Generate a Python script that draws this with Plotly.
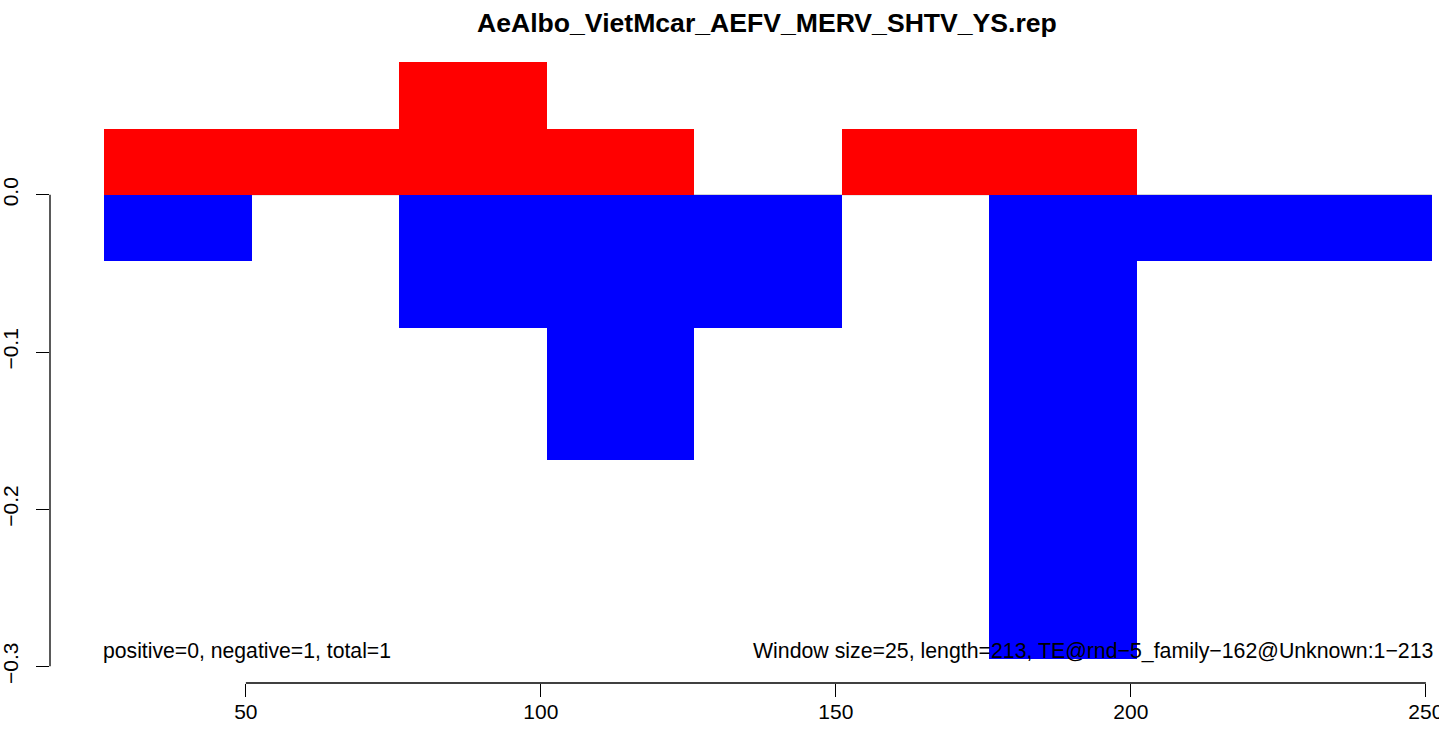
import plotly.graph_objects as go

# ---- data ----
window_starts = [26, 51, 76, 101, 126, 151, 176, 201, 226]
window_size = 25
unit = 0.0422
positive_counts = [1, 1, 2, 1, 0, 1, 1, 0, 0]
negative_counts = [-1, 0, -2, -4, -2, 0, -7, -1, -1]
pos_values = [c * unit for c in positive_counts]
neg_values = [c * unit for c in negative_counts]
x_ticks = [50, 100, 150, 200, 250]
x_tick_labels = ["50", "100", "150", "200", "250"]
y_ticks = [0.0, -0.1, -0.2, -0.3]
y_tick_labels = ["0.0", "\u22120.1", "\u22120.2", "\u22120.3"]
title_text = "AeAlbo_VietMcar_AEFV_MERV_SHTV_YS.rep"
left_note = "positive=0, negative=1, total=1"
right_note = "Window size=25, length=213, TE@rnd\u22125_family\u2212162@Unknown:1\u2212213"

centers = [s + window_size / 2 for s in window_starts]
x_lo = window_starts[0]
x_hi = window_starts[-1] + window_size

FONT = "Liberation Sans, Arial, Helvetica, sans-serif"
FS = 21

W, H = 1439, 734
ml, mr, mt = 50, 0, 38
bottom_px = 51  # space under the x axis (tick label band)
band = bottom_px / (H - mt)
xr = [16.8, 16.8 + (W - ml - mr) / 5.9]
yr = [-0.3106, 0.0998]

fig = go.Figure()
fig.add_trace(go.Bar(x=centers, y=pos_values, width=window_size,
                     marker=dict(color="#FF0000", line=dict(width=0)),
                     showlegend=False, hoverinfo="skip"))
fig.add_trace(go.Bar(x=centers, y=neg_values, width=window_size,
                     marker=dict(color="#0000FF", line=dict(width=0)),
                     showlegend=False, hoverinfo="skip"))
# x tick labels in a clipped band below the axis (so the last one is cut at the edge)
fig.add_trace(go.Scatter(x=x_ticks, y=[0.4] * len(x_ticks), text=x_tick_labels,
                         mode="text", textposition="middle center",
                         textfont=dict(size=FS, family=FONT, color="black"),
                         cliponaxis=True, showlegend=False, hoverinfo="skip",
                         xaxis="x2", yaxis="y2"))

fig.update_layout(
    width=W, height=H,
    margin=dict(l=ml, r=mr, t=mt, b=0),
    paper_bgcolor="white", plot_bgcolor="white",
    barmode="overlay", bargap=0,
    font=dict(family=FONT, size=FS, color="black"),
    xaxis=dict(range=xr, domain=[0, 1], showgrid=False, zeroline=False, showline=False,
               tickmode="array", tickvals=x_ticks, showticklabels=False,
               ticks="outside", ticklen=13, tickwidth=1.3, tickcolor="black"),
    yaxis=dict(range=yr, domain=[band, 1], showgrid=False, zeroline=False, showline=False,
               tickmode="array", tickvals=y_ticks, ticktext=y_tick_labels,
               ticks="outside", ticklen=13, tickwidth=1.3, tickcolor="black",
               tickangle=-90, ticklabelstandoff=10, tickfont=dict(size=FS)),
    xaxis2=dict(range=xr, domain=[0, 1], anchor="y2", visible=False),
    yaxis2=dict(range=[0, 1], domain=[0, band], anchor="x2", visible=False),
)

# R-style axis lines spanning only the tick range
fig.add_shape(type="line", xref="x", yref="y domain", x0=min(x_ticks), x1=max(x_ticks),
              y0=0, y1=0, line=dict(color="black", width=1.3), layer="above")
fig.add_shape(type="line", xref="x domain", yref="y", x0=0, x1=0,
              y0=min(y_ticks), y1=max(y_ticks), line=dict(color="black", width=1.3), layer="above")
# faint zero line
fig.add_shape(type="line", xref="x", yref="y", x0=x_lo, x1=x_hi, y0=0, y1=0,
              line=dict(color="#BEBEBE", width=1), layer="below")

fig.add_annotation(text="<b>" + title_text + "</b>", xref="paper", yref="paper",
                   x=(767 - ml) / (W - ml - mr), y=1, yshift=-2, yanchor="bottom",
                   showarrow=False, font=dict(size=26.6, family=FONT))
fig.add_annotation(text=left_note, xref="x", yref="y", x=x_lo, y=-0.2905,
                   xanchor="left", yanchor="middle", showarrow=False, xshift=-3,
                   font=dict(size=21.2, family=FONT))
fig.add_annotation(text=right_note, xref="x", yref="y", x=x_hi, y=-0.2905,
                   xanchor="right", yanchor="middle", showarrow=False, xshift=3,
                   font=dict(size=21.3, family=FONT))

post = """
document.documentElement.style.overflow='hidden';
document.body.style.margin='0';
document.body.style.overflow='hidden';
"""
fig.write_html("out.html", config={"displayModeBar": False}, post_script=post)
